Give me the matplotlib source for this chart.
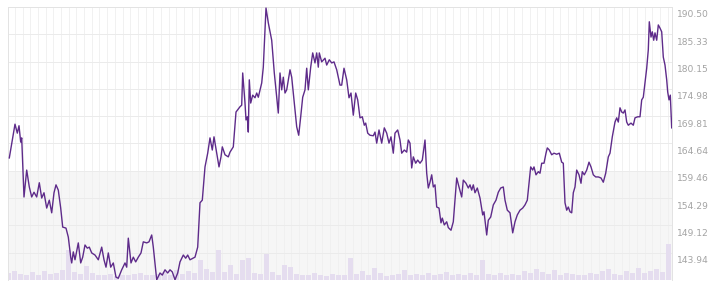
import numpy as np
import matplotlib
matplotlib.use("Agg")
import matplotlib.pyplot as plt
from matplotlib.transforms import blended_transform_factory

# trading position (days from start) and closing price
days = [1.3, 7.0, 9.3, 11.0, 12.7, 13.7, 16.0, 18.7, 21.3, 23.7, 26.0, 28.7, 31.3, 33.7, 36.0,
        38.7, 41.3, 43.7, 46.0, 48.0, 50.3, 52.7, 54.7, 58.0, 60.3, 62.7, 63.7, 65.3, 67.0, 70.3,
        72.7, 74.7, 77.0, 79.3, 81.3, 83.7, 87.0, 90.3, 93.7, 96.0, 98.0, 100.3, 102.7, 105.3, 108.0,
        110.3, 113.7, 117.0, 118.7, 120.3, 123.0, 125.3, 127.7, 130.3, 133.0, 135.3, 138.7, 141.0, 143.7,
        145.3, 148.7, 152.0, 154.3, 157.0, 159.7, 162.0, 164.3, 167.0, 169.7, 172.0, 175.3, 177.7, 179.7,
        182.0, 187.0, 189.7, 192.0, 194.3, 197.0, 199.7, 202.0, 204.3, 206.0, 208.7, 211.0, 213.0, 214.3,
        217.0, 220.3, 222.0, 225.3, 228.0, 232.0, 233.7, 234.7, 237.0, 238.0, 239.3, 240.3, 241.3, 242.7,
        244.7, 247.0, 248.7, 250.3, 253.7, 255.3, 258.0, 260.3, 263.7, 266.3, 268.7, 270.3, 272.0, 273.7,
        275.3, 277.0, 278.7, 282.0, 283.7, 286.0, 288.7, 290.7, 292.7, 294.7, 297.0, 298.7, 300.3, 302.7,
        304.7, 307.0, 308.7, 310.3, 311.3, 313.7, 317.0, 318.7, 321.3, 323.7, 326.0, 328.7, 332.0, 333.7,
        336.0, 338.7, 341.0, 343.0, 345.3, 347.7, 349.7, 352.0, 354.3, 356.3, 357.7, 359.7, 362.0, 365.3,
        367.0, 368.7, 371.0, 373.7, 376.3, 378.7, 381.0, 383.0, 385.3, 387.0, 389.7, 392.0, 393.7, 396.3,
        398.7, 400.3, 402.0, 403.7, 405.3, 407.7, 409.7, 412.0, 414.3, 417.0, 418.7, 420.3, 422.0, 423.7,
        425.3, 427.0, 428.7, 431.0, 433.0, 434.3, 436.3, 438.7, 440.3, 443.0, 445.3, 447.0, 448.7, 451.0,
        453.7, 455.3, 458.0, 460.3, 462.0, 463.7, 465.3, 467.0, 469.3, 472.0, 474.7, 476.0, 478.7, 480.3,
        482.7, 485.3, 488.0, 490.3, 492.7, 495.3, 497.0, 499.3, 502.0, 504.7, 507.0, 509.3, 512.0, 514.7,
        517.0, 519.3, 522.7, 524.7, 526.0, 528.0, 530.3, 532.0, 533.7, 536.0, 538.0, 539.3, 541.3, 543.7,
        546.0, 548.7, 551.3, 553.7, 555.3, 557.0, 558.7, 560.3, 562.0, 563.7, 565.3, 567.0, 568.7, 571.0,
        573.0, 574.3, 576.3, 578.7, 581.0, 583.0, 585.3, 587.7, 590.3, 593.0, 595.3, 597.7, 600.3, 602.0,
        604.3, 607.0, 608.7, 610.3, 612.0, 613.7, 615.3, 617.0, 618.7, 620.3, 623.0, 625.3, 627.0, 629.7,
        632.0, 633.7, 635.3, 637.0, 638.7, 640.3, 641.3, 643.0, 644.3, 645.7, 647.0, 648.7, 650.3, 652.0,
        653.7, 655.3, 657.0, 658.7, 659.7, 661.0, 662.3, 663.7]
price = [161.9, 168.3, 166.6, 168.0, 164.9, 165.7, 154.5, 159.6, 156.4, 154.5, 155.4, 154.5, 157.2, 154.3, 155.3,
         152.4, 153.9, 151.5, 155.3, 156.8, 155.8, 152.4, 148.8, 148.6, 146.9, 143.1, 142.0, 144.1, 142.6, 145.8,
         142.0, 143.1, 145.4, 144.8, 145.0, 143.9, 143.5, 142.6, 145.0, 142.6, 141.2, 143.9, 141.2, 142.0, 139.3,
         139.1, 140.7, 142.0, 141.2, 146.7, 142.0, 143.1, 142.2, 143.1, 143.9, 146.0, 145.8, 146.0, 147.3,
         145.0, 138.8, 140.1, 139.7, 140.7, 140.1, 140.7, 140.3, 138.8, 140.1, 142.2, 143.5, 142.9, 143.5,
         142.6, 143.1, 145.0, 153.4, 153.9, 160.2, 162.8, 165.7, 163.4, 165.9, 162.8, 160.2, 162.1, 164.0,
         162.5, 162.1, 163.0, 164.0, 170.6, 171.6, 171.9, 178.0, 172.3, 169.1, 169.7, 166.8, 176.7, 172.3,
         173.8, 173.3, 174.2, 173.4, 176.1, 179.1, 190.3, 187.5, 184.2, 178.0, 173.4, 170.4, 178.0, 174.8,
         177.2, 174.2, 174.8, 178.6, 177.2, 172.9, 167.8, 166.2, 169.7, 173.4, 174.8, 178.9, 174.8, 179.1,
         181.8, 179.9, 181.8, 179.1, 181.8, 180.1, 180.8, 179.5, 180.5, 179.9, 180.1, 178.6, 175.7, 175.7,
         178.9, 176.7, 173.3, 174.2, 170.0, 174.2, 172.9, 169.5, 169.7, 168.1, 168.5, 166.6, 166.2, 166.1,
         166.8, 164.7, 167.2, 164.7, 167.6, 166.6, 164.7, 165.9, 162.8, 166.6, 167.2, 165.3, 162.8, 163.4,
         163.0, 165.3, 164.7, 160.0, 162.1, 160.9, 161.5, 160.9, 161.5, 165.3, 159.0, 156.2, 157.3, 158.7,
         156.4, 156.8, 152.6, 152.4, 149.6, 150.5, 149.2, 149.8, 148.7, 148.2, 149.8, 153.9, 158.1, 156.4,
         154.5, 157.7, 157.1, 156.2, 156.8, 155.8, 156.8, 155.3, 156.2, 154.3, 151.1, 151.7, 147.3, 150.1,
         150.7, 153.0, 153.9, 155.4, 156.2, 156.4, 153.9, 152.0, 151.5, 147.7, 149.8, 151.1, 152.0, 152.4,
         153.0, 153.9, 160.2, 159.6, 160.2, 158.7, 159.3, 159.0, 160.9, 160.9, 162.8, 163.8, 163.4, 162.5,
         162.8, 162.6, 162.8, 161.1, 160.9, 153.4, 152.0, 152.6, 151.7, 151.5, 155.3, 156.4, 159.6, 158.7,
         157.1, 159.3, 158.7, 159.6, 161.1, 160.2, 158.7, 158.3, 158.3, 158.1, 157.3, 159.0, 162.1, 162.8,
         165.9, 168.7, 169.5, 168.7, 171.4, 170.6, 170.4, 171.0, 168.7, 168.1, 168.5, 168.1, 169.5, 169.7,
         169.7, 172.9, 173.4, 176.1, 178.9, 182.4, 187.7, 184.8, 185.8, 184.2, 185.6, 184.2, 187.1, 186.5,
         185.8, 181.0, 179.5, 176.7, 174.4, 172.9, 173.8, 167.6]

# traded volume, one bucket every 6 days (millions)
vol_days = list(range(0, 666, 6))
volume = [7, 9, 6, 5, 8, 5, 9, 6, 7, 10, 30, 8, 6, 14, 7, 5, 5, 6, 4, 5,
          5, 6, 7, 5, 5, 6, 8, 5, 10, 6, 9, 7, 20, 11, 8, 30, 8, 15, 6, 20,
          22, 7, 6, 26, 8, 5, 15, 13, 6, 5, 5, 7, 5, 4, 6, 5, 5, 22, 6, 9,
          5, 12, 7, 4, 5, 6, 10, 5, 6, 5, 7, 5, 6, 8, 5, 6, 5, 7, 5, 20,
          6, 5, 7, 5, 6, 5, 9, 7, 11, 8, 6, 10, 5, 7, 6, 5, 5, 7, 6, 9,
          11, 6, 5, 9, 7, 12, 7, 9, 11, 8, 36]
vol_max = 273

yticks = [138.77, 143.94, 149.12, 154.29, 159.46, 164.64, 169.81, 174.98, 180.15, 185.33, 190.50]
band_top = 159.46

fig = plt.figure(figsize=(7.08, 2.82), dpi=100)
ax = fig.add_axes([8 / 708, 2 / 282, 664 / 708, 273 / 282])
ax.set_xlim(0, 664)
ax.set_ylim(yticks[0], yticks[-1])

# shaded lower band
ax.axhspan(yticks[0], band_top, color="#f6f6f6", zorder=0, lw=0)

# grid
for gx in np.arange(7.0, 664, 7.68):
    ax.axvline(gx, color="#efefef", lw=0.6, zorder=1)
for gy in yticks:
    ax.axhline(gy, color="#ebebeb", lw=0.7, zorder=1)

# volume bars at the bottom
trans = blended_transform_factory(ax.transData, ax.transAxes)
ax.bar(vol_days, [v / vol_max for v in volume], width=5, bottom=0, color="#e5ddef",
       transform=trans, zorder=2, lw=0)

# price line
ax.plot(days, price, color="#5e2b8a", lw=1.0, zorder=3)

ax.set_xticks([])
ax.set_yticks([])
for side in ["top", "left", "right"]:
    ax.spines[side].set_color("#e3e3e3")
    ax.spines[side].set_linewidth(0.7)
ax.spines["bottom"].set_visible(False)

# right-hand price labels, sitting just under each gridline
for v in yticks:
    ax.annotate("%.2f" % v, xy=(1.0, v), xycoords=("axes fraction", "data"),
                xytext=(3.5, -2.5), textcoords="offset points",
                ha="left", va="top", fontsize=6.6, color="#a3a3a3")

fig.savefig("out.png", dpi=100)
